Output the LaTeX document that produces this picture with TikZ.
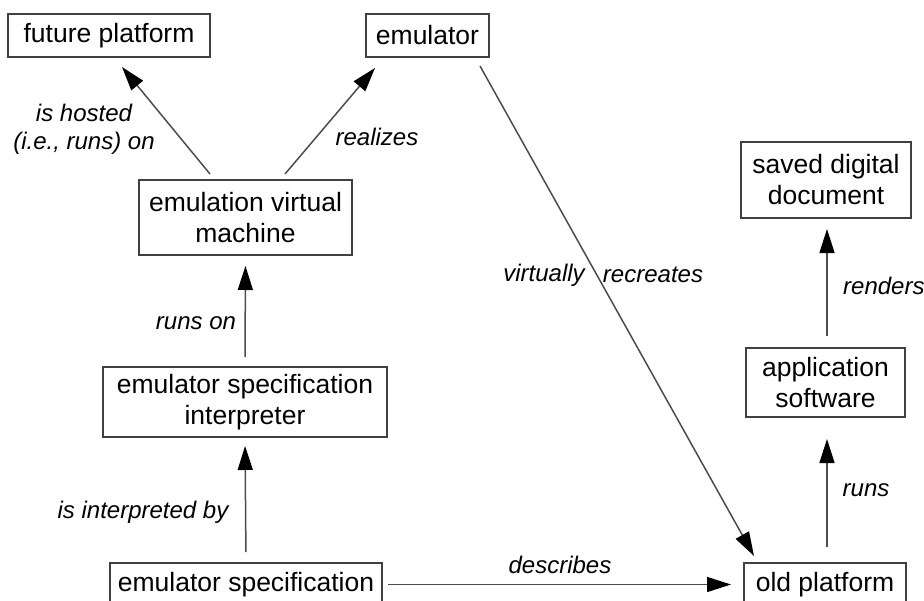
\documentclass[tikz,border=0pt]{standalone}
\usepackage{fontspec}
\setmainfont{Liberation Sans}
\usetikzlibrary{arrows.meta,calc}
\newcommand{\boxfont}{\fontsize{26.5}{31}\selectfont}
\newcommand{\lblfont}{\fontsize{24}{28}\selectfont\itshape}
\begin{document}
\begin{tikzpicture}[x=1pt,y=-1pt,
  box/.style={draw=black!75, line width=2pt, align=center, inner sep=0pt, font=\boxfont},
  lbl/.style={font=\lblfont, align=center, inner sep=0pt},
  arr/.style={draw=black!70, line width=1.5pt, -{Triangle[length=24pt,width=15pt,fill=black,color=black]}}]
\useasboundingbox (0,0) rectangle (924,600);
% boxes
\node[box, minimum width=202pt, minimum height=43pt] (fp) at (109,35.5) {future platform};
\node[box, minimum width=123pt, minimum height=43pt] (em) at (427.5,35.5) {emulator};
\node[box, minimum width=213pt, minimum height=75pt] (evm) at (245.5,217.5) {emulation virtual\\machine};
\node[box, minimum width=284pt, minimum height=70pt] (esi) at (245,402) {emulator specification\\interpreter};
\node[box, minimum width=272pt, minimum height=43pt] (es) at (246,584.5) {emulator specification};
\node[box, minimum width=162pt, minimum height=43pt] (op) at (825,584.5) {old platform};
\node[box, minimum width=159pt, minimum height=69pt] (as) at (825.5,382.5) {application\\software};
\node[box, minimum width=170pt, minimum height=76pt] (sdd) at (826,180) {saved digital\\document};
% connectors
\draw[arr] ($(evm.north)+(-35.5,-5)$) -- ($(fp.south)+(13,9)$);
\draw[arr] ($(evm.north)+(39.5,-5)$) -- ($(em.south)+(-52.5,10)$);
\draw[arr] ($(em.south)+(52.5,8)$) -- ($(op.north west)+(11,-6)$);
\draw[arr, shorten <=9pt, shorten >=10pt] (esi.north) -- (evm.south);
\draw[arr, shorten <=10pt, shorten >=8pt] (es.north) -- (esi.south);
\draw[arr, shorten <=5pt, shorten >=12pt] (es.east) -- (op.west);
\draw[arr, shorten <=15pt, shorten >=21pt] ($(op.north)+(2,0)$) -- ($(as.south)+(1.5,0)$);
\draw[arr, shorten <=11pt, shorten >=10pt] ($(as.north)+(1.5,0)$) -- ($(sdd.south)+(1,0)$);
% labels
\node[lbl] (l1) at (84,129) {is hosted\\(i.e., runs) on};
\node[lbl] (l2) at (377,137) {realizes};
\node[lbl] (l3) at (544,275) {virtually};
\node[lbl] (l4) at (653,275) {recreates};
\node[lbl, anchor=west] (l5) at (843,286) {renders};
\node[lbl] (l6) at (196,323) {runs on};
\node[lbl] (l7) at (143,512) {is interpreted by};
\node[lbl] (l8) at (866,490) {runs};
\node[lbl] (l9) at (560,565) {describes};
\end{tikzpicture}
\end{document}
